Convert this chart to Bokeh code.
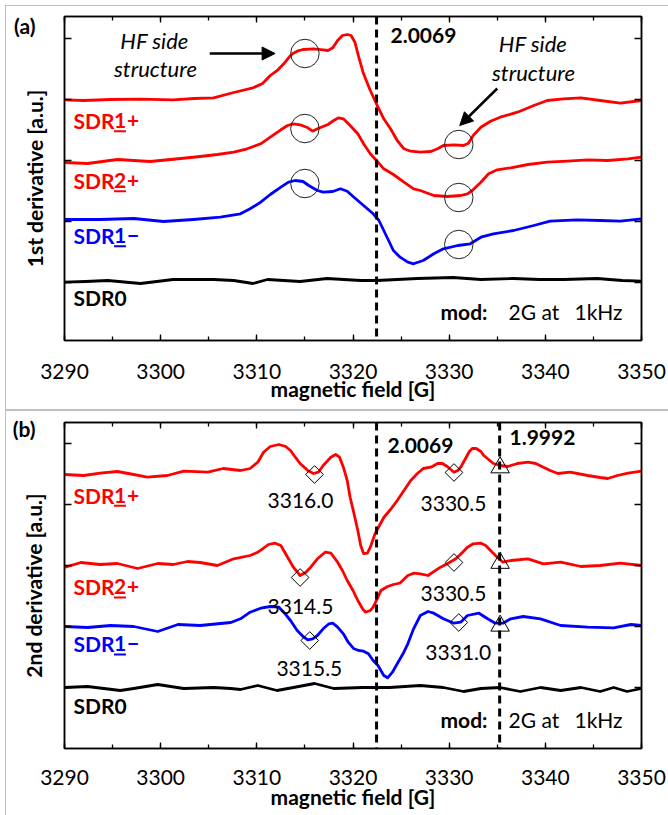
import numpy as np
from bokeh.plotting import figure
from bokeh.models import (Range1d, LinearAxis, SingleIntervalTicker, FixedTicker,
                          Span, Label, Arrow, NormalHead, CustomLabelingPolicy)
from bokeh.layouts import column
from bokeh.embed import file_html
from bokeh.resources import INLINE

# ---------------- data (field in G, signal in arbitrary units, curves stacked) -------------
# panel (a): 1st derivative
a_sdr1p_x = [3290, 3292, 3294.8, 3297.9, 3301.3, 3303.5, 3305.5, 3307.6, 3309.6, 3310.6, 3311.4,
             3312.2, 3312.8, 3313.3, 3313.7, 3314.2, 3314.8, 3315.9, 3316.9, 3317.4, 3317.9, 3318.4,
             3318.9, 3319.4, 3319.8, 3320.2, 3320.6, 3321.1, 3321.8, 3322.6, 3323.2, 3323.9, 3324.6,
             3325.3, 3326.0, 3327.0, 3328.1, 3328.8, 3329.4, 3330.5, 3331.5, 3332.0, 3332.5, 3333.3,
             3334.3, 3335.3, 3337.1, 3338.8, 3340.2, 3341.9, 3343.7, 3345.7, 3347.8, 3350]
a_sdr1p_y = [182.7, 182, 183, 183.3, 182.7, 184, 184.7, 190, 194.7, 199, 207, 212.7, 218.7, 224.7,
             228.7, 231.3, 233, 233.7, 232.7, 232, 234.7, 242, 247, 248, 247, 240.3, 225.3, 208.7,
             192, 175.3, 163.7, 153.7, 142, 133.7, 131.3, 130.3, 131, 133.7, 137, 137.7, 137, 139.3,
             147, 155.3, 161.3, 165.3, 170.3, 177, 182, 183.7, 184.7, 182, 179.3, 182]

a_sdr2p_x = [3290, 3292.4, 3295.5, 3298.9, 3302.1, 3304.1, 3305.9, 3307.6, 3309.0, 3310.4, 3311.4,
             3312.5, 3313.2, 3313.8, 3314.5, 3315.3, 3315.8, 3316.3, 3317.4, 3318.0, 3318.5, 3319.0,
             3319.7, 3320.5, 3321.1, 3321.8, 3322.6, 3323.2, 3324.2, 3325.3, 3326.3, 3327.0, 3328.4,
             3329.8, 3331.2, 3331.9, 3332.4, 3333.3, 3334.1, 3335.0, 3336.4, 3338.2, 3340.2, 3342.3,
             3344.4, 3346.5, 3348.6, 3350]
a_sdr2p_y = [120, 119, 123, 121, 124, 126, 128, 130.3, 133.7, 138.7, 145.3, 152.7, 157, 158.7, 157.7,
             154.7, 151.3, 153.7, 158, 162, 164.7, 163.7, 157, 148.7, 138.7, 128.7, 120.3, 113.7, 108,
             100.3, 93.7, 92, 87, 86, 87, 88.7, 92, 100.3, 108.7, 112.7, 114.7, 118, 120.3, 121.3,
             122.7, 122, 123.7, 125.3]

a_sdr1m_x = [3290, 3293.7, 3297.2, 3300.3, 3303.4, 3306.2, 3308.3, 3309.3, 3310.4, 3311.4, 3312.5,
             3313.3, 3314.0, 3314.8, 3315.4, 3316.3, 3316.9, 3317.9, 3318.7, 3319.4, 3320.1, 3321.1,
             3322.1, 3322.7, 3323.2, 3323.7, 3324.2, 3324.9, 3325.7, 3326.3, 3327.3, 3328.4, 3329.4,
             3330.9, 3332.2, 3333.3, 3334.6, 3336.7, 3338.8, 3340.5, 3343.3, 3345.7, 3347.8, 3350]
a_sdr1m_y = [63, 63, 64, 61, 63, 65.3, 68.7, 73.7, 80.3, 88, 95.3, 100.3, 102, 101, 97, 92, 90.3, 91,
             93.7, 91.3, 85.3, 77, 68.7, 62, 52, 42, 32, 25.3, 20.3, 18.7, 22, 28.7, 33.7, 37, 38.7,
             45.3, 48.7, 52, 57, 61.3, 62.7, 62, 61.3, 63.7]

a_sdr0_x = [3290, 3292.2, 3294.5, 3297.9, 3301.3, 3305.5, 3307.6, 3309.6, 3311.1, 3314.5, 3317.3,
            3320.8, 3322.5, 3326.7, 3330.4, 3333.3, 3336.7, 3339.4, 3341.9, 3345.4, 3348.0, 3350]
a_sdr0_y = [0.3, 1, 2, -1, 3, 3, 2, -1, 3, 1, 4, 2, 2, 4, 5, 3, 4, 3, 3, 4, 2, 1.3]

# hyperfine side-structure markers (circles)
a_hf_x = [3315.0, 3315.0, 3315.0, 3331.0, 3331.0, 3331.0]
a_hf_y = [229, 154, 99, 138, 85, 38]

# panel (b): 2nd derivative
b_sdr1p_x = [3290.0, 3292.0, 3293.7, 3295.5, 3297.2, 3298.6, 3300.7, 3302.4, 3304.9, 3306.5, 3308.3,
             3309.3, 3310.1, 3310.7, 3311.4, 3312.3, 3313.0, 3313.5, 3314.0, 3314.5, 3315.3, 3315.9,
             3316.4, 3316.9, 3317.7, 3318.2, 3318.6, 3319.0, 3319.4, 3319.7, 3320.1, 3320.5, 3320.8,
             3321.1, 3321.5, 3321.8, 3322.3, 3323.2, 3323.9, 3324.6, 3325.3, 3326.0, 3326.7, 3327.3,
             3328.1, 3328.8, 3329.3, 3329.8, 3330.5, 3330.9, 3331.2, 3331.7, 3332.1, 3332.4, 3332.8,
             3333.3, 3333.6, 3334.1, 3334.6, 3335.3, 3336.1, 3337.1, 3338.2, 3339.0, 3339.8, 3340.5,
             3341.3, 3342.6, 3344.4, 3345.7, 3346.5, 3347.5, 3348.6, 3350]
b_sdr1p_y = [213, 212, 214.3, 216, 213, 210.3, 212, 216.3, 215.3, 219, 217, 219, 225.3, 235.3, 241,
             243, 241, 237, 230.3, 224, 217, 214, 215.3, 222, 230.3, 233, 230.3, 220.3, 207, 190.3,
             174, 157, 142, 134, 134.3, 140.3, 154, 170, 178, 187, 197, 207, 214, 219, 220.3, 224,
             224, 221, 215.3, 217, 220.3, 229, 236, 239, 239, 236, 232, 228, 224, 222, 221, 224,
             225.3, 224, 220.3, 217, 214, 215.3, 212, 210, 209, 212, 214.3, 216.3]

b_sdr2p_x = [3290.0, 3291.7, 3293.7, 3295.5, 3297.6, 3299.7, 3301.3, 3302.8, 3304.1, 3305.9, 3307.6,
             3309.3, 3310.1, 3310.6, 3311.2, 3311.9, 3312.5, 3313.2, 3313.8, 3314.5, 3315.1, 3315.6,
             3316.3, 3317.1, 3317.7, 3318.4, 3318.9, 3319.4, 3320.0, 3320.5, 3321.0, 3321.3, 3321.8,
             3322.1, 3322.6, 3322.9, 3323.6, 3324.2, 3324.9, 3325.7, 3326.3, 3327.0, 3327.8, 3329.1,
             3329.8, 3330.7, 3331.4, 3331.9, 3332.5, 3333.3, 3333.8, 3334.3, 3335.0, 3335.6, 3336.4,
             3338.2, 3339.8, 3341.6, 3343.7, 3345.7, 3347.8, 3350]
b_sdr2p_y = [120, 125, 123, 124, 119, 124, 123, 126, 125, 122, 128.7, 132, 135.3, 138.7, 143, 144.3,
             142, 130.3, 120.3, 112, 115.3, 120.3, 128.7, 135.3, 134.3, 125.3, 117, 107, 97, 87, 78.7,
             75.3, 77, 80.3, 90.3, 97, 101, 103, 104.5, 112, 114.3, 113.7, 112, 120.3, 123.7, 128.7,
             135.3, 140.3, 143.7, 144.3, 142, 137, 130.3, 125.3, 127, 128.7, 123.7, 125.3, 121, 122,
             124.3, 122]

b_sdr1m_x = [3290.0, 3292.4, 3294.8, 3297.2, 3299.7, 3301.8, 3304.1, 3307.3, 3308.3, 3309.3, 3310.4,
             3311.4, 3312.3, 3312.8, 3313.5, 3314.2, 3314.8, 3315.3, 3315.8, 3316.3, 3316.9, 3317.5,
             3317.9, 3318.4, 3319.0, 3319.5, 3320.1, 3320.6, 3321.1, 3321.6, 3322.1, 3322.6, 3322.9,
             3323.2, 3323.6, 3324.1, 3324.6, 3325.2, 3325.7, 3326.3, 3327.0, 3327.8, 3328.4, 3329.4,
             3330.5, 3331.2, 3331.9, 3333.1, 3334.0, 3334.8, 3335.6, 3336.4, 3337.7, 3339.5, 3341.6,
             3344.4, 3347.1, 3348.9, 3350]
b_sdr1m_y = [61, 60, 62, 61, 56, 63, 62, 65, 68.7, 75.3, 79.3, 81, 80.3, 75.3, 67, 57, 51, 47.7, 48.7,
             52, 58.7, 63.7, 64.3, 60.3, 53.7, 45.3, 38.7, 37, 36.3, 33.7, 27, 22, 17, 12, 9.7, 15.3,
             23.7, 33.7, 43.7, 58.7, 72, 76, 74.3, 68.7, 64.3, 65.3, 72, 74.3, 68.7, 64.3, 64.3, 68.7,
             71, 68.7, 62, 60.3, 59.7, 63, 62]

b_sdr0_x = [3290, 3292.4, 3295.8, 3297.2, 3299.7, 3302.4, 3305.5, 3307.3, 3308.3, 3310.1, 3312.1,
            3313.8, 3316.0, 3318.0, 3321.0, 3323.8, 3327.0, 3329.4, 3331.5, 3333.3, 3335.3, 3337.4,
            3339.5, 3341.6, 3343.7, 3345.7, 3347.1, 3348.5, 3350]
b_sdr0_y = [0, 1, -3, -1, 3, -1, 0, -1, -2, 2, -3, 0, 4, -1, 0, 0, 2, 0, -4, -1, 0, -4, 0, -3, 0,
            -4, 0, -4, -1]

# line positions (diamonds) with their field values, and 1.9992 positions (triangles)
b_dia_x = [3316.0, 3314.5, 3315.5, 3330.5, 3330.5, 3331.0]
b_dia_y = [213, 110, 47, 215, 125, 65]
b_tri_x = [3335.3, 3335.3, 3335.3]
b_tri_y = [220, 124.5, 61.7]

# g-value lines
g_lines_a = [(3322.45, "2.0069")]
g_lines_b = [(3322.45, "2.0069"), (3335.25, "1.9992")]

x_ticks_interval = 10
y_ticks = [0, 61, 122, 183, 244]

# ---------------- styling ----------------
FONT = "Lato"
FS = "21px"
RED = "#ff0000"
BLUE = "#0000ff"
BLACK = "#000000"
GREY = "#c0c0c0"
X_RANGE = (3290, 3350)
W = 668

NO_LABELS = ("try { for (const i of [...indices.ones()]) { indices.unset(i) } } "
             "catch (e) {} return indices")


def hide_labels(ax):
    ax.major_label_text_font_size = "1px"
    ax.major_label_standoff = 0
    ax.major_label_policy = CustomLabelingPolicy(code=NO_LABELS)


def add_x_axis(p, place, with_labels, label_standoff=17, axis_standoff=-6):
    ax = LinearAxis(ticker=SingleIntervalTicker(interval=x_ticks_interval, num_minor_ticks=2))
    ax.axis_line_color = BLACK
    ax.axis_line_width = 1.5
    ax.major_tick_in = 6
    ax.major_tick_out = 0
    ax.minor_tick_in = 4
    ax.minor_tick_out = 0
    ax.major_tick_line_width = 1.3
    ax.minor_tick_line_width = 1.3
    if with_labels:
        ax.major_label_text_font = FONT
        ax.major_label_text_font_size = FS
        ax.major_label_text_color = BLACK
        ax.major_label_standoff = label_standoff
        ax.axis_label = "magnetic field [G]"
        ax.axis_label_text_font = FONT
        ax.axis_label_text_font_size = FS
        ax.axis_label_text_font_style = "bold"
        ax.axis_label_text_color = BLACK
        ax.axis_label_standoff = axis_standoff
    else:
        hide_labels(ax)
    p.add_layout(ax, place)


def add_y_ticks(p, place):
    ax = LinearAxis(ticker=FixedTicker(ticks=y_ticks, minor_ticks=[]))
    ax.axis_line_color = BLACK
    ax.axis_line_width = 1.5
    ax.major_tick_in = 7
    ax.major_tick_out = 0
    ax.minor_tick_line_color = None
    ax.major_tick_line_width = 1.3
    hide_labels(ax)
    p.add_layout(ax, place)


def add_y_title(p, label, tag, tag_y):
    # carries the panel tag "(a)"/"(b)" as its only tick label and the y-axis title
    ax = LinearAxis(ticker=FixedTicker(ticks=[tag_y], minor_ticks=[]),
                    major_label_overrides={tag_y: tag})
    ax.axis_line_color = None
    ax.major_tick_line_color = None
    ax.minor_tick_line_color = None
    ax.major_label_text_font = FONT
    ax.major_label_text_font_size = FS
    ax.major_label_text_font_style = "bold"
    ax.major_label_text_color = BLACK
    ax.major_label_standoff = 18
    ax.axis_label = label
    ax.axis_label_text_font = FONT
    ax.axis_label_text_font_size = FS
    ax.axis_label_text_font_style = "bold"
    ax.axis_label_text_color = BLACK
    ax.axis_label_standoff = -36
    p.add_layout(ax, "left")


def txt(p, x, y, s, color=BLACK, style="normal", align="left", size=FS):
    p.add_layout(Label(x=x, y=y, text=s, text_font=FONT, text_font_size=size,
                       text_font_style=style, text_color=color, text_align=align,
                       text_baseline="middle"))


LX_SDR, LX_NUM, LX_SIGN = 3290.94, 3295.77, 3296.5
UNDER = 10.7


def sdr_label(p, y, num, sign, color):
    if num is None:
        txt(p, LX_SDR, y, "SDR0", color, "bold")
        return
    txt(p, LX_SDR, y, "SDR", color, "bold")
    txt(p, LX_NUM, y, num, color, "bold", "center")
    txt(p, LX_SIGN, y, sign, color, "bold")
    p.segment(x0=[LX_NUM - 0.62], y0=[y - UNDER], x1=[LX_NUM + 0.62], y1=[y - UNDER],
              line_color=color, line_width=2)


def make_panel(height, b_top, b_bottom, y_range, ylabel, tag, tag_y, tick_so, axis_so, css):
    p = figure(width=W, height=height, output_backend="svg", toolbar_location=None,
               x_range=Range1d(*X_RANGE), y_range=Range1d(*y_range),
               x_axis_location=None, y_axis_location=None,
               min_border_left=64, min_border_right=27,
               min_border_top=b_top, min_border_bottom=b_bottom, styles=css)
    p.grid.visible = False
    p.outline_line_color = BLACK
    p.outline_line_width = 1.5
    p.background_fill_color = "white"
    p.border_fill_alpha = 0
    add_x_axis(p, "below", True, tick_so, axis_so)
    add_x_axis(p, "above", False)
    add_y_ticks(p, "left")
    add_y_title(p, ylabel, tag, tag_y)
    add_y_ticks(p, "right")
    return p


def grey_frame(h_line_ys, v_len):
    imgs = ", ".join([f"linear-gradient({GREY}, {GREY})"] * (1 + len(h_line_ys)))
    sizes = ", ".join([f"1px {v_len}px"] + ["663px 1px"] * len(h_line_ys))
    top = h_line_ys[0]
    pos = ", ".join([f"5px {top}px"] + [f"5px {y}px" for y in h_line_ys])
    return {"background-color": "white", "background-image": imgs, "background-size": sizes,
            "background-position": pos, "background-repeat": "no-repeat"}


def draw_curves(p, curves):
    for xs, ys, col in curves:
        p.line(xs, ys, line_color=col, line_width=2.8, line_join="round")


def draw_glines(p, glines):
    for gx, _ in glines:
        p.add_layout(Span(location=gx, dimension="height", line_color=BLACK,
                          line_width=3, line_dash="8 5"))


# ---------------- panel (a) ----------------
pa = make_panel(410, 16, 70, (-58, 266), "1st derivative [a.u.]", "(a)", 257, 23, -6,
                grey_frame([5, 409], 405))
draw_curves(pa, [(a_sdr1p_x, a_sdr1p_y, RED), (a_sdr2p_x, a_sdr2p_y, RED),
                 (a_sdr1m_x, a_sdr1m_y, BLUE), (a_sdr0_x, a_sdr0_y, BLACK)])
pa.scatter(a_hf_x, a_hf_y, marker="circle", size=28.5, fill_color=None,
           line_color="#222222", line_width=1)
draw_glines(pa, g_lines_a)
txt(pa, 3323.9, 247, g_lines_a[0][1], style="bold")
txt(pa, 3299.36, 242, "HF side", style="italic", align="center", size="22px")
txt(pa, 3299.46, 214, "structure", style="italic", align="center", size="22px")
txt(pa, 3338.72, 239, "HF side", style="italic", align="center", size="22px")
txt(pa, 3338.77, 210, "structure", style="italic", align="center", size="22px")
pa.add_layout(Arrow(end=NormalHead(size=13, fill_color=BLACK, line_color=BLACK),
                    x_start=3305.1, y_start=229, x_end=3311.9, y_end=229,
                    line_color=BLACK, line_width=2.5))
pa.add_layout(Arrow(end=NormalHead(size=13, fill_color=BLACK, line_color=BLACK),
                    x_start=3335.0, y_start=194, x_end=3331.1, y_end=157,
                    line_color=BLACK, line_width=2.5))
sdr_label(pa, 162, "1", "+", RED)
sdr_label(pa, 102, "2", "+", RED)
sdr_label(pa, 47, "1", "\u2212", BLUE)
sdr_label(pa, -15, None, None, BLACK)
txt(pa, 3329.1, -29, "mod:", style="bold")
txt(pa, 3336.17, -29, "2G at")
txt(pa, 3343.03, -29, "1kHz")

# ---------------- panel (b) ----------------
pb = make_panel(405, 12, 67, (-61, 265), "2nd derivative [a.u.]", "(b)", 259, 21, -4,
                grey_frame([0], 405))
draw_curves(pb, [(b_sdr1p_x, b_sdr1p_y, RED), (b_sdr2p_x, b_sdr2p_y, RED),
                 (b_sdr1m_x, b_sdr1m_y, BLUE), (b_sdr0_x, b_sdr0_y, BLACK)])
pb.scatter(b_dia_x, b_dia_y, marker="square", angle=np.pi / 4, size=12.5, fill_color=None,
           line_color=BLACK, line_width=1)
pb.scatter(b_tri_x, b_tri_y, marker="triangle", size=18.5, fill_color=None,
           line_color=BLACK, line_width=1)
draw_glines(pb, g_lines_b)
txt(pb, 3323.59, 242, g_lines_b[0][1], style="bold")
txt(pb, 3336.27, 250, g_lines_b[1][1], style="bold")
val_pos = [(3314.54, 187), (3314.54, 81), (3315.46, 19), (3330.45, 184), (3330.45, 94.5),
           (3330.95, 35)]
for xv, (lx, ly) in zip(b_dia_x, val_pos):
    txt(pb, lx, ly, f"{xv:.1f}", align="center")
sdr_label(pb, 192.5, "1", "+", RED)
sdr_label(pb, 100.7, "2", "+", RED)
sdr_label(pb, 43.7, "1", "\u2212", BLUE)
sdr_label(pb, -18.3, None, None, BLACK)
txt(pb, 3329.1, -32, "mod:", style="bold")
txt(pb, 3336.17, -32, "2G at")
txt(pb, 3343.03, -32, "1kHz")

layout = column(pa, pb, spacing=0)
open("out.html", "w").write(file_html(layout, INLINE))
